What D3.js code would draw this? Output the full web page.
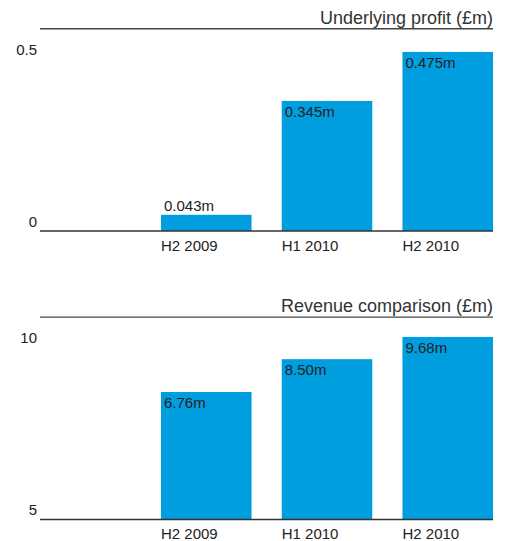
<!DOCTYPE html>
<html><head><meta charset="utf-8">
<script src="https://cdn.jsdelivr.net/npm/d3@7"></script>
<style>
body{margin:0;background:#fff;}
text{font-family:"Liberation Sans",Arial,Helvetica,sans-serif;fill:#222;}
</style></head>
<body><svg id="c" width="505" height="541"></svg>
<script>
const categories = ["H2 2009", "H1 2010", "H2 2010"];
const profitValues = [0.043, 0.345, 0.475];
const profitLabels = ["0.043m", "0.345m", "0.475m"];
const profitTicks = [0, 0.5];
const profitTickLabels = ["0", "0.5"];
const revenueValues = [6.76, 8.50, 9.68];
const revenueLabels = ["6.76m", "8.50m", "9.68m"];
const revenueTicks = [5, 10];
const revenueTickLabels = ["5", "10"];
const titles = ["Underlying profit (£m)", "Revenue comparison (£m)"];

const svg = d3.select("#c");
const blue = "#009ddf";
const x = d3.scaleBand().domain(categories).range([161, 493]).paddingInner(0.25).paddingOuter(0);

function panel(off, title, values, labels, ticks, tickLabels, yMax) {
  const g = svg.append("g").attr("transform", `translate(0,${off})`);
  const base = 231;
  const y = d3.scaleLinear().domain([0, yMax]).range([base, 231 - 188.5]);
  const ty = d3.scaleLinear().domain(ticks).range([227, 55]);
  g.append("text").attr("x", 493).attr("y", 24).attr("text-anchor", "end")
    .style("font-size", "18px").style("fill", "#333").text(title);
  g.append("line").attr("x1", 40).attr("x2", 493).attr("y1", 28.7).attr("y2", 28.7)
    .attr("stroke", "#444").attr("stroke-width", 1.4);
  g.selectAll("text.tick").data(ticks).enter().append("text").attr("class", "tick")
    .attr("x", 37).attr("y", d => ty(d)).attr("text-anchor", "end")
    .style("font-size", "15px").text((d, i) => tickLabels[i]);
  g.selectAll("rect").data(values).enter().append("rect")
    .attr("x", (d, i) => x(categories[i])).attr("width", x.bandwidth())
    .attr("y", d => y(d)).attr("height", d => base - y(d)).attr("fill", blue);
  g.selectAll("text.val").data(values).enter().append("text").attr("class", "val")
    .attr("x", (d, i) => x(categories[i]) + 3)
    .attr("y", d => (base - y(d) > 25) ? y(d) + 16 : y(d) - 4)
    .style("font-size", "15px").text((d, i) => labels[i]);
  g.append("line").attr("x1", 40).attr("x2", 493).attr("y1", base).attr("y2", base)
    .attr("stroke", "#333").attr("stroke-width", 1.5);
  g.selectAll("text.cat").data(categories).enter().append("text").attr("class", "cat")
    .attr("x", d => x(d)).attr("y", 251)
    .style("font-size", "15px").text(d => d);
}

panel(0, titles[0], profitValues, profitLabels, profitTicks, profitTickLabels, 0.5);
panel(288.4, titles[1], revenueValues, revenueLabels, revenueTicks, revenueTickLabels, 10);
</script></body></html>
